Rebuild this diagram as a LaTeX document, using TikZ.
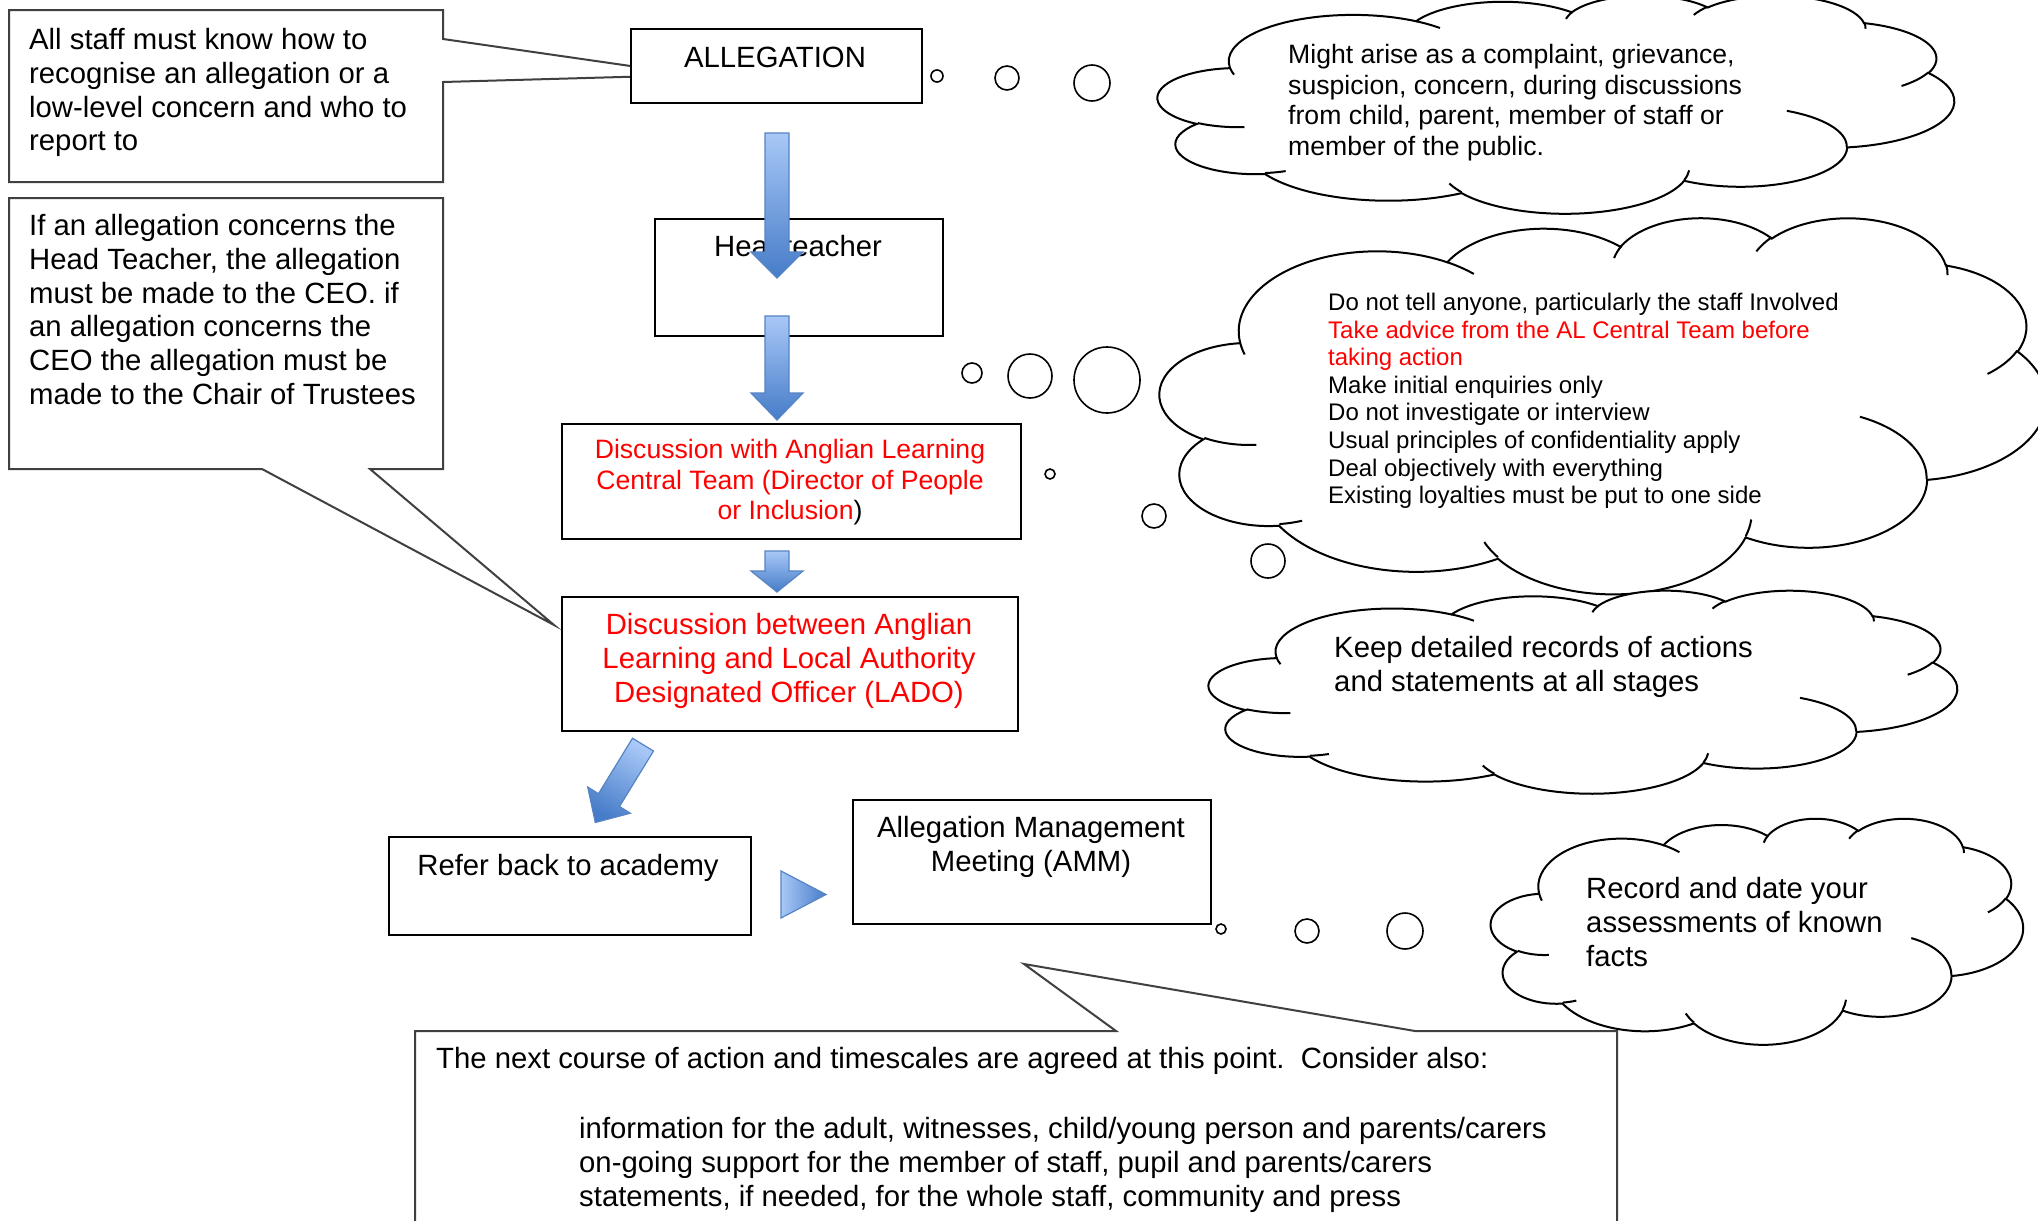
\documentclass[tikz,border=0pt]{standalone}
\usepackage{fontspec}
\setmainfont{Liberation Sans}
\definecolor{arrlight}{RGB}{168,200,247}
\definecolor{arrdark}{RGB}{70,124,200}
\definecolor{arredge}{RGB}{86,132,196}
\tikzset{
  puff/.style n args={4}{insert path={arc[x radius=#1pt,y radius=#2pt,
    start angle={atan2(#1*sin(#3),#2*cos(#3))},
    delta angle={mod(atan2(#1*sin(#3+#4),#2*cos(#3+#4))-atan2(#1*sin(#3),#2*cos(#3))+720,360)}]}}
}
% cloud outline in a 432 x 432 box, scaled to left, top, width, height
\newcommand{\thoughtcloud}[4]{%
  \begin{scope}[shift={(#1,#2)},x=1pt,y=1pt,xscale=#3/432,yscale=-#4/432,line width=2pt]
    \draw[fill=white] (39,143.7) [puff={67.53}{91.90}{-190.4875}{123.7805}]
      [puff={53.33}{72.67}{-144.1024}{89.9452}] [puff={43.65}{59.45}{-145.8079}{99.7230}]
      [puff={48.57}{65.95}{-130.9861}{117.2417}] [puff={53.33}{72.73}{-78.7089}{109.0269}]
      [puff={67.75}{92.20}{-46.2673}{130.2690}] [puff={57.85}{78.67}{0.6250}{114.0333}]
      [puff={67.52}{92.15}{22.4516}{115.1726}] [puff={77.20}{105.43}{66.2426}{75.7110}]
      [puff={43.60}{59.18}{-274.9421}{146.7356}] [puff={43.45}{59.45}{-246.8285}{152.5189}] -- cycle;
    \draw (46.93,261.77) [puff={43.45}{59.45}{86.7420}{26.4295}]
      (69.28,348.99) [puff={43.60}{59.18}{73.6105}{11.4475}]
      (164.78,390.90) [puff={67.52}{92.15}{137.6242}{14.0811}]
      (288.27,347.51) [puff={67.52}{92.15}{6.4533}{15.9984}]
      (341.29,229.54) [puff={57.85}{78.67}{-70.2924}{70.9174}]
      (417.98,153.54) [puff={53.33}{72.73}{30.3180}{27.7515}]
      (383.24,54.26) [puff={48.57}{65.95}{-13.7443}{14.8589}]
      (290.78,39.52) [puff={48.57}{65.95}{-149.1815}{18.1954}]
      (221.41,47.20) [puff={43.65}{59.45}{-163.4943}{17.6864}]
      (140.00,51.92) [puff={67.53}{91.90}{-66.7070}{12.3194}]
      (41.27,157.89) [puff={67.53}{91.90}{157.6544}{11.8582}];
  \end{scope}}

\begin{document}
\begin{tikzpicture}[x=1pt,y=-1pt,
  framebox/.style={draw=black,line width=2pt,fill=white,inner sep=0pt,anchor=north west},
  notepath/.style={draw=black!75,line width=2pt,fill=white},
  bigtext/.style={font=\fontsize{29.3}{33.7}\selectfont,inner sep=0pt},
  midtext/.style={font=\fontsize{26.6}{30.6}\selectfont,inner sep=0pt},
  smalltext/.style={font=\fontsize{24}{27.6}\selectfont,inner sep=0pt},
  bubble/.style={draw=black,line width=1.6pt,fill=white},
  blockarrow/.style={draw=arredge,line width=1.2pt,top color=arrlight,bottom color=arrdark}
]
\fill[white] (0,0) rectangle (2038,1221);
\useasboundingbox (0,0) rectangle (2038,1221);

% callout boxes on the left and at the bottom
\draw[notepath] (9,10) -- (443,10) -- (443,39) -- (693,75) -- (443,82) -- (443,182) -- (9,182) -- cycle;
\draw[notepath] (9,198) -- (443,198) -- (443,469) -- (370,469) -- (554,625) -- (262,469) -- (9,469) -- cycle;
\draw[notepath] (415,1031) -- (1116,1031) -- (1024,964) -- (1415,1031) -- (1617,1031) -- (1617,1240) -- (415,1240) -- cycle;
\node[bigtext,anchor=north west,align=left] (staff) at (29,26) {\strut All staff must know how to\\
  recognise an allegation or a\\ low-level concern and who to\\ report to};
\node[bigtext,anchor=north west,align=left] (headnote) at (29,212) {\strut If an allegation concerns the\\
  Head Teacher, the allegation\\ must be made to the CEO. if\\ an allegation concerns the\\
  CEO the allegation must be\\ made to the Chair of Trustees};
\node[bigtext,anchor=north west,align=left] (next) at (436,1045) {\strut The next course of action and timescales are agreed at this point.\ \ Consider also:};
\node[bigtext,anchor=north west,align=left] (consider) at (579,1115) {\strut information for the adult, witnesses, child/young person and parents/carers\\
  on-going support for the member of staff, pupil and parents/carers\\
  statements, if needed, for the whole staff, community and press};

% flow boxes
\node[framebox,minimum width=291,minimum height=74] (alleg) at (630,28) {};
\node[framebox,minimum width=288,minimum height=117] (head) at (654,218) {};
\node[framebox,minimum width=459,minimum height=115] (dwith) at (561,423) {};
\node[framebox,minimum width=456,minimum height=134] (dlado) at (561,596) {};
\node[framebox,minimum width=362,minimum height=98] (refer) at (388,836) {};
\node[framebox,minimum width=358,minimum height=124] (amm) at (852,799) {};
\node[bigtext,anchor=base] (allegtext) at (775,67) {ALLEGATION};
\node[bigtext,anchor=base] (headtext) at (798,256) {Headteacher};
\node[midtext,anchor=north,align=center,text=red] (dwithtext) at (790,437) {\strut Discussion with Anglian Learning\\
  Central Team (Director of People\\ or Inclusion\textcolor{black}{)}};
\node[bigtext,anchor=north,align=center,text=red] (dladotext) at (789,611) {\strut Discussion between Anglian\\
  Learning and Local Authority\\ Designated Officer (LADO)};
\node[bigtext,anchor=base] (refertext) at (568,875) {Refer back to academy};
\node[bigtext,anchor=north,align=center] (ammtext) at (1031,814) {\strut Allegation Management\\ Meeting (AMM)};

% block arrows
\draw[blockarrow] (765,133) -- (789,133) -- (789,252) -- (803,252) -- (777,278) -- (751,252) -- (765,252) -- cycle;
\draw[blockarrow] (765,316) -- (789,316) -- (789,393) -- (803,393) -- (777,420) -- (751,393) -- (765,393) -- cycle;
\draw[blockarrow] (765,551) -- (789,551) -- (789,571) -- (803,571) -- (777,592) -- (751,571) -- (765,571) -- cycle;
\draw[blockarrow,shading angle=-31] (632.5,738.2) -- (653.5,751) -- (619.5,806.5) -- (630.3,813.2)
  -- (595.3,822.5) -- (587.7,787) -- (598.5,793.7) -- cycle;
\draw[blockarrow,left color=arrlight,right color=arrdark] (781,871) -- (826,894.5) -- (781,918) -- cycle;

% thought bubbles
\draw[bubble] (937,76) circle[radius=6pt] (1007,78) circle[radius=12pt] (1092,83) circle[radius=18pt];
\draw[bubble] (972,373) circle[radius=10pt] (1030,376) circle[radius=22pt] (1107,380) circle[radius=33pt];
\draw[bubble] (1050,474) circle[radius=5pt] (1154,516) circle[radius=12pt] (1268,561) circle[radius=17pt];
\draw[bubble] (1221,929) circle[radius=5pt] (1307,931) circle[radius=12pt] (1405,931) circle[radius=18pt];

% clouds
\thoughtcloud{1158}{-5}{796}{218}
\thoughtcloud{1160}{217}{886}{376}
\thoughtcloud{1209}{590}{748}{203}
\thoughtcloud{1491}{818}{532}{226}
\node[midtext,anchor=north west,align=left] (arisetext) at (1288,42) {\strut Might arise as a complaint, grievance,\\
  suspicion, concern, during discussions\\ from child, parent, member of staff or\\ member of the public.};
\node[smalltext,anchor=north west,align=left] (advicetext) at (1328,291) {\strut Do not tell anyone, particularly the staff Involved\\
  \textcolor{red}{Take advice from the AL Central Team before}\\ \textcolor{red}{taking action}\\
  Make initial enquiries only\\ Do not investigate or interview\\ Usual principles of confidentiality apply\\
  Deal objectively with everything\\ Existing loyalties must be put to one side};
\node[bigtext,anchor=north west,align=left] (recordstext) at (1334,634) {\strut Keep detailed records of actions\\
  and statements at all stages};
\node[bigtext,anchor=north west,align=left] (factstext) at (1586,875) {\strut Record and date your\\
  assessments of known\\ facts};
\end{tikzpicture}
\end{document}
